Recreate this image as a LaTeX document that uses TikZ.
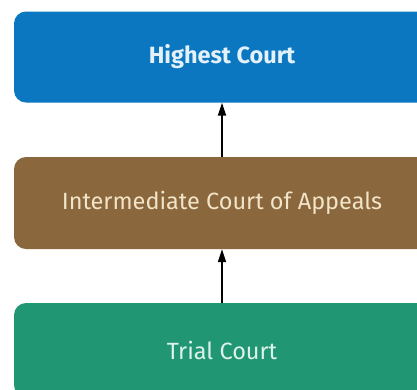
\documentclass[tikz,border=0pt]{standalone}
\usepackage{fontspec}
\setmainfont{Fira Sans}
\usetikzlibrary{arrows.meta}
\definecolor{courtblue}{HTML}{0A77C0}
\definecolor{courtbrown}{HTML}{8A673C}
\definecolor{courtgreen}{HTML}{209673}
\definecolor{textblue}{HTML}{E4F1FA}
\definecolor{textcream}{HTML}{F2E4C8}
\definecolor{textgreen}{HTML}{DCF2EA}
\tikzset{
  court/.style={rectangle, rounded corners=12pt, minimum width=416pt,
    inner sep=0pt, font=\fontsize{23.5}{28}\selectfont},
  appeal/.style={-{Triangle[length=13pt,width=8pt]}, line width=1.8pt, black}
}
\begin{document}
\begin{tikzpicture}[x=1pt,y=-1pt]
  \clip (0,0) rectangle (417,389);
  \fill[white] (0,0) rectangle (417,389);
  \node[court, fill=courtblue, text=textblue, minimum height=91pt, font=\fontsize{23.5}{28}\selectfont\bfseries]
    (high) at (222,57) {Highest Court};
  \node[court, fill=courtbrown, text=textcream, minimum height=92pt]
    (mid) at (222,203) {Intermediate Court of Appeals};
  \node[court, fill=courtgreen, text=textgreen, minimum height=94pt]
    (trial) at (222,350) {Trial Court};
  \draw[appeal] (mid.north) -- (high.south);
  \draw[appeal] (trial.north) -- (mid.south);
\end{tikzpicture}
\end{document}
